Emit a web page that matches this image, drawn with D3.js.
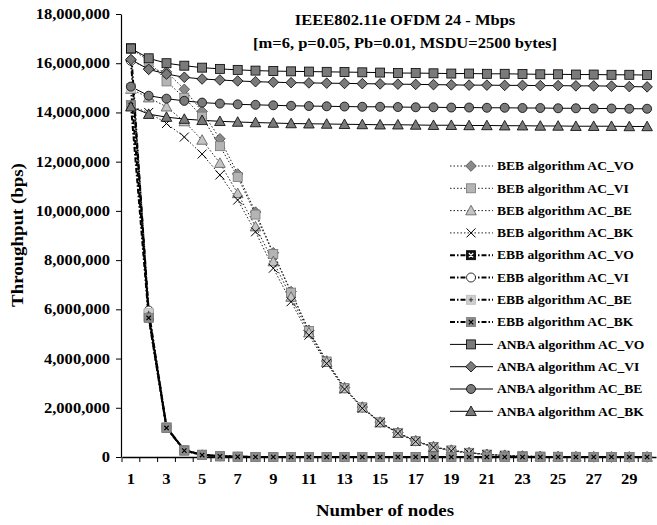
<!DOCTYPE html>
<html>
<head>
<meta charset="utf-8">
<script src="https://cdn.jsdelivr.net/npm/d3@7"></script>
<style>
  body { margin: 0; background: #fff; }
  text { font-family: "Liberation Serif", "Times New Roman", serif; font-weight: bold; }
</style>
</head>
<body>
<svg id="chart" width="657" height="525"></svg>
<script>
// number of nodes (x categories)
const nodes = [1,2,3,4,5,6,7,8,9,10,11,12,13,14,15,16,17,18,19,20,21,22,23,24,25,26,27,28,29,30];
const xLabels = [1,3,5,7,9,11,13,15,17,19,21,23,25,27,29];
const yTicks = [0,2,4,6,8,10,12,14,16,18]; // millions of bps

// throughput, millions of bps
const bebVO = [16.1,15.78,15.65,14.94,14.04,12.93,11.5,9.95,8.3,6.72,5.15,3.9,2.82,2.03,1.42,0.99,0.66,0.42,0.28,0.18,0.11,0.07,0.04,0.025,0.015,0.01,0.005,0,0,0];
const bebVI = [16.6,16.1,15.26,14.6,13.83,12.63,11.38,9.85,8.25,6.68,5.12,3.88,2.8,2.02,1.41,0.98,0.65,0.41,0.27,0.17,0.1,0.06,0.035,0.02,0.012,0.008,0.004,0,0,0];
const bebBE = [14.95,14.6,14.23,13.63,12.88,11.94,10.71,9.36,7.94,6.5,5.05,3.85,2.78,2.0,1.4,0.97,0.64,0.4,0.26,0.16,0.1,0.06,0.03,0.02,0.01,0.006,0.003,0,0,0];
const bebBK = [14.25,14.0,13.55,13.0,12.31,11.46,10.44,9.15,7.67,6.31,4.95,3.8,2.76,1.98,1.39,0.96,0.63,0.4,0.25,0.16,0.1,0.06,0.03,0.02,0.01,0.005,0.002,0,0,0];

const ebbVO = [16.6,5.7,1.2,0.27,0.09,0.03,0.01,0,0,0,0,0,0,0,0,0,0,0,0,0,0,0,0,0,0,0,0,0,0,0];
const ebbVI = [16.1,5.95,1.22,0.28,0.09,0.03,0.01,0,0,0,0,0,0,0,0,0,0,0,0,0,0,0,0,0,0,0,0,0,0,0];
const ebbBE = [15.0,5.85,1.21,0.27,0.09,0.03,0.01,0,0,0,0,0,0,0,0,0,0,0,0,0,0,0,0,0,0,0,0,0,0,0];
const ebbBK = [14.3,5.65,1.18,0.26,0.08,0.03,0.01,0,0,0,0,0,0,0,0,0,0,0,0,0,0,0,0,0,0,0,0,0,0,0];

const anbaVO = [16.6,16.2,16.0,15.9,15.82,15.77,15.73,15.7,15.68,15.67,15.66,15.65,15.64,15.63,15.62,15.6,15.6,15.59,15.58,15.58,15.57,15.57,15.56,15.55,15.55,15.54,15.54,15.53,15.53,15.52];
const anbaVI = [16.15,15.75,15.56,15.43,15.36,15.32,15.28,15.25,15.23,15.21,15.2,15.19,15.18,15.17,15.16,15.15,15.14,15.13,15.12,15.11,15.11,15.1,15.1,15.09,15.09,15.08,15.08,15.07,15.05,15.04];
const anbaBE = [15.05,14.68,14.56,14.47,14.4,14.36,14.33,14.31,14.29,14.27,14.26,14.25,14.24,14.23,14.23,14.22,14.21,14.21,14.2,14.2,14.19,14.19,14.18,14.18,14.17,14.17,14.16,14.16,14.15,14.15];
const anbaBK = [14.23,13.93,13.81,13.73,13.68,13.64,13.61,13.59,13.57,13.55,13.54,13.53,13.52,13.51,13.5,13.5,13.49,13.48,13.48,13.47,13.47,13.46,13.46,13.45,13.45,13.44,13.44,13.44,13.43,13.43];

const seriesNames = [
  'BEB algorithm AC_VO','BEB algorithm AC_VI','BEB algorithm AC_BE','BEB algorithm AC_BK',
  'EBB algorithm AC_VO','EBB algorithm AC_VI','EBB algorithm AC_BE','EBB algorithm AC_BK',
  'ANBA algorithm AC_VO','ANBA algorithm AC_VI','ANBA algorithm AC_BE','ANBA algorithm AC_BK'
];
const seriesValues = [bebVO,bebVI,bebBE,bebBK, ebbVO,ebbVI,ebbBE,ebbBK, anbaVO,anbaVI,anbaBE,anbaBK];

// look of each series (same order)
const looks = [
  {line:'dot', mark:'diamond',  fill:'#8a8a8a', stroke:'#444'},
  {line:'dot', mark:'square',   fill:'#b4b4b4', stroke:'#777'},
  {line:'dot', mark:'triangle', fill:'#c4c4c4', stroke:'#555'},
  {line:'dot', mark:'x',        fill:'none',    stroke:'#000'},
  {line:'ebb', mark:'squareX',  fill:'#111',    stroke:'#000', inner:'#fff'},
  {line:'ebb', mark:'circle',   fill:'#fff',    stroke:'#000'},
  {line:'ebb', mark:'squarePlus', fill:'#cfcfcf', stroke:'#bbb', inner:'#333'},
  {line:'ebb', mark:'squareX',  fill:'#8c8c8c', stroke:'#777', inner:'#000'},
  {line:'solid', mark:'square',   fill:'#7a7a7a', stroke:'#000'},
  {line:'solid', mark:'diamond',  fill:'#7a7a7a', stroke:'#000'},
  {line:'solid', mark:'circle',   fill:'#7a7a7a', stroke:'#000'},
  {line:'solid', mark:'triangle', fill:'#7a7a7a', stroke:'#000'}
];
const lineStyles = {
  dot:   {stroke:'#222', width:1,   dash:'1.5,2'},
  ebb:   {stroke:'#000', width:2,   dash:'5,2,1.5,2'},
  solid: {stroke:'#000', width:1,   dash:null}
};

// the source picture's text is a bit stretched sideways
const stretch = 1.18;

const svg = d3.select('#chart');
const [mt, ml, plotRight, plotBottom] = [14, 122, 656, 457];

const x = d3.scaleBand().domain(nodes).range([ml, plotRight]).padding(0);
const y = d3.scaleLinear().domain([0, 18]).range([plotBottom, mt]);
const cx = d => x(d) + x.bandwidth() / 2;

// marker shapes
function drawMarker(g, look, px, py) {
  const r = 4.5;
  const m = look.mark;
  if (m === 'square' || m === 'squareX' || m === 'squarePlus') {
    g.append('rect').attr('x', px - r).attr('y', py - r).attr('width', 2 * r).attr('height', 2 * r)
      .attr('fill', look.fill).attr('stroke', look.stroke).attr('stroke-width', 0.8);
    if (m === 'squareX') {
      const k = 2.2;
      g.append('path').attr('d', `M${px-k},${py-k}L${px+k},${py+k}M${px-k},${py+k}L${px+k},${py-k}`)
        .attr('stroke', look.inner).attr('stroke-width', 1.2);
    } else if (m === 'squarePlus') {
      const k = 2.2;
      g.append('path').attr('d', `M${px-k},${py}L${px+k},${py}M${px},${py-k}L${px},${py+k}`)
        .attr('stroke', look.inner).attr('stroke-width', 1);
    }
  } else if (m === 'diamond') {
    const d = r + 0.8;
    g.append('path').attr('d', `M${px},${py-d}L${px+d},${py}L${px},${py+d}L${px-d},${py}Z`)
      .attr('fill', look.fill).attr('stroke', look.stroke).attr('stroke-width', 0.8);
  } else if (m === 'circle') {
    g.append('circle').attr('cx', px).attr('cy', py).attr('r', r)
      .attr('fill', look.fill).attr('stroke', look.stroke).attr('stroke-width', 0.8);
  } else if (m === 'triangle') {
    const d = r + 0.8;
    g.append('path').attr('d', `M${px},${py-d}L${px+d},${py+d*0.8}L${px-d},${py+d*0.8}Z`)
      .attr('fill', look.fill).attr('stroke', look.stroke).attr('stroke-width', 0.8);
  } else if (m === 'x') {
    const d = r;
    g.append('path').attr('d', `M${px-d},${py-d}L${px+d},${py+d}M${px-d},${py+d}L${px+d},${py-d}`)
      .attr('stroke', look.stroke).attr('stroke-width', 1).attr('fill', 'none');
  }
}

// stretched text helper
function label(parent, tx, ty, size, anchor, str) {
  return parent.append('text')
    .attr('transform', `translate(${tx},${ty}) scale(${stretch},1)`)
    .attr('text-anchor', anchor).attr('font-size', size).text(str);
}

// y axis
const yAxis = d3.axisLeft(y).tickValues(yTicks).tickSize(5).tickSizeOuter(0)
  .tickFormat(d => d3.format(',')(d * 1e6));
svg.append('g').attr('transform', `translate(${ml - 1},0)`).call(yAxis)
  .call(g => g.select('.domain').attr('stroke', '#000').attr('stroke-width', 1.2))
  .call(g => g.selectAll('.tick line').attr('stroke', '#000'))
  .call(g => g.selectAll('.tick text').attr('font-size', 14).attr('fill', '#000')
    .attr('x', -11 / stretch).attr('transform', `scale(${stretch},1)`)
    .attr('font-family', '"Liberation Serif", serif').attr('font-weight', 'bold'));

// x axis: labels on odd categories, tick marks on band edges
const xAxis = d3.axisBottom(x).tickValues(xLabels).tickSize(0).tickPadding(17);
svg.append('g').attr('transform', `translate(0,${plotBottom})`).call(xAxis)
  .call(g => g.select('.domain').attr('stroke', '#000').attr('stroke-width', 1.5))
  .call(g => g.selectAll('.tick text').attr('font-size', 14).attr('fill', '#000')
    .attr('transform', `scale(${stretch},1)`)
    .attr('font-family', '"Liberation Serif", serif').attr('font-weight', 'bold'));
svg.append('g').selectAll('line').data(nodes).join('line')
  .attr('x1', d => x(d)).attr('x2', d => x(d))
  .attr('y1', plotBottom).attr('y2', plotBottom + 5)
  .attr('stroke', '#000');

// series lines + markers
const line = d3.line().x((v, i) => cx(nodes[i])).y(v => y(v));
seriesValues.forEach((vals, s) => {
  const ls = lineStyles[looks[s].line];
  svg.append('path').datum(vals).attr('d', line).attr('fill', 'none')
    .attr('stroke', ls.stroke).attr('stroke-width', ls.width).attr('stroke-dasharray', ls.dash);
});
seriesValues.forEach((vals, s) => {
  const g = svg.append('g');
  vals.forEach((v, i) => drawMarker(g, looks[s], cx(nodes[i]), y(v)));
});

// legend
const legend = svg.append('g');
seriesNames.forEach((name, s) => {
  const ly = 166 + s * 22.3;
  const ls = lineStyles[looks[s].line];
  legend.append('line').attr('x1', 450).attr('x2', 493).attr('y1', ly).attr('y2', ly)
    .attr('stroke', ls.stroke).attr('stroke-width', ls.width).attr('stroke-dasharray', ls.dash);
  drawMarker(legend.append('g'), looks[s], 471, ly);
  label(legend, 497, ly + 4.2, 11.5, 'start', name);
});

// title
label(svg, 405, 25, 14, 'middle', 'IEEE802.11e OFDM 24 - Mbps');
label(svg, 405, 48, 14, 'middle', '[m=6, p=0.05, Pb=0.01, MSDU=2500 bytes]');

// axis titles
label(svg, 385, 516, 16, 'middle', 'Number of nodes');
svg.append('text').attr('transform', `translate(23,235) rotate(-90) scale(${stretch},1)`)
  .attr('text-anchor', 'middle').attr('font-size', 16).text('Throughput (bps)');
</script>
</body>
</html>
